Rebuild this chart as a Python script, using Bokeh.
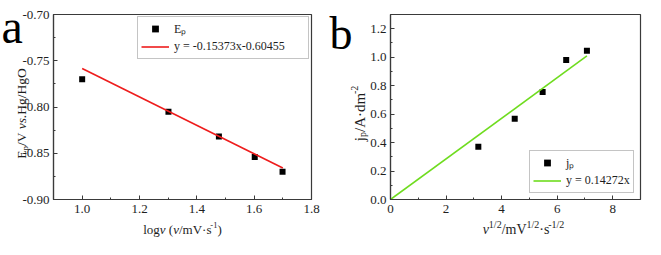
from bokeh.plotting import figure
from bokeh.models import Range1d, FixedTicker, PrintfTickFormatter, GridBox, Column
from bokeh.core.properties import value
from bokeh.embed import file_html
from bokeh.resources import INLINE
import math

# ---------------- data ----------------
# panel a
logv = [1.0, 1.301, 1.477, 1.602, 1.699]
Ep = [-0.770, -0.805, -0.832, -0.854, -0.870]
fit_a_x = [1.0, 1.70]
fit_a_y = [-0.7583, -0.8659]
a_xticks = [1.0, 1.2, 1.4, 1.6, 1.8]
a_xminor = [0.9, 1.1, 1.3, 1.5, 1.7]
a_yticks = [-0.90, -0.85, -0.80, -0.75, -0.70]
a_yminor = [-0.875, -0.825, -0.775, -0.725]
legend_a = ["Eₚ", "y = -0.15373x-0.60455"]

# panel b
sqrtv = [3.162, 4.472, 5.477, 6.325, 7.071]
jp = [0.370, 0.568, 0.755, 0.980, 1.045]
fit_b_x = [0.0, 7.071]
fit_b_y = [0.0, 1.009]
b_xticks = [0, 2, 4, 6, 8]
b_xminor = [1, 3, 5, 7]
b_yticks = [0.0, 0.2, 0.4, 0.6, 0.8, 1.0, 1.2]
b_yminor = [0.1, 0.3, 0.5, 0.7, 0.9, 1.1]
legend_b = ["jₚ", "y = 0.14272x"]

FONT = "Liberation Serif"
AX = "#3a3a3a"
TXT = "#1e1e1e"
W, H = 645, 239

# Times-like advance widths (per 1000 em)
W_N = {' ': 250, '(': 333, ')': 333, '-': 333, '.': 250, '/': 278, '=': 564,
       'A': 722, 'E': 611, 'H': 722, 'O': 722, 'V': 722, 'a': 444, 'd': 500,
       'g': 500, 'j': 278, 'l': 278, 'm': 778, 'o': 500, 'p': 500, 's': 389,
       'v': 500, 'x': 500, 'y': 500, '·': 250}
W_I = {'v': 444, 's': 389, '.': 250}


def no_align(p):
    if "frame_align" in p.properties():
        p.frame_align = False


def text_width(t, size, style):
    tot = 0
    for ch in t:
        if ch.isdigit():
            w = 500
        elif style == "italic" and ch in W_I:
            w = W_I[ch]
        else:
            w = W_N.get(ch, 500)
        tot += w
    return tot * size / 1000.0


def put_text(p, x, y, t, size, style="normal", angle=0.0, color=TXT):
    p.text(x=[x], y=[y], text=[t], angle=angle, text_font=value(FONT),
           text_font_size=value(f"{size}px"), text_font_style=value(style),
           text_baseline="alphabetic", text_align="left", text_color=color)


def rich(p, pieces, cx, cy, vertical=False):
    """pieces: (text, size, style, rise). Canvas px, y downward."""
    widths = [text_width(t, s, st) for t, s, st, sh in pieces]
    pos = -sum(widths) / 2.0
    for (t, s, st, sh), w in zip(pieces, widths):
        lead = text_width(t[:len(t) - len(t.lstrip(' '))], s, st)
        core = t.strip(' ')
        if core:
            d = pos + lead
            if not vertical:
                put_text(p, cx + d, cy - sh, core, s, st)
            else:
                put_text(p, cx - sh, cy - d, core, s, st, angle=math.pi / 2)
        pos += w


def make_fig(width, xr, yr, bl, br, xt, xm, yt, ym, xfmt, yfmt):
    p = figure(width=width, height=H, x_range=Range1d(*xr), y_range=Range1d(*yr),
               output_backend="svg", toolbar_location=None,
               min_border_left=bl, min_border_right=br, min_border_top=14,
               min_border_bottom=40)
    no_align(p)
    p.xgrid.visible = False
    p.ygrid.visible = False
    p.background_fill_color = "white"
    p.border_fill_color = "white"
    p.outline_line_color = AX
    p.outline_line_width = 1.2
    p.xaxis.ticker = FixedTicker(ticks=xt, minor_ticks=xm)
    p.yaxis.ticker = FixedTicker(ticks=yt, minor_ticks=ym)
    p.xaxis.formatter = PrintfTickFormatter(format=xfmt)
    p.yaxis.formatter = PrintfTickFormatter(format=yfmt)
    for ax in (p.xaxis[0], p.yaxis[0]):
        ax.axis_line_color = AX
        ax.axis_line_width = 1.2
        ax.major_tick_line_color = AX
        ax.minor_tick_line_color = AX
        ax.major_tick_in = 4
        ax.major_tick_out = 0
        ax.minor_tick_in = 2
        ax.minor_tick_out = 0
        ax.major_label_text_font = FONT
        ax.major_label_text_font_size = "13px"
        ax.major_label_text_color = TXT
    p.xaxis[0].major_label_standoff = 5
    p.yaxis[0].major_label_standoff = 4
    return p


def style_legend(p, loc, margin, label_width):
    lg = p.legend[0]
    lg.location = loc
    lg.margin = margin
    lg.padding = 3
    lg.spacing = 1
    lg.glyph_width = 28
    lg.glyph_height = 17
    lg.label_height = 17
    lg.label_width = label_width
    lg.label_standoff = 5
    lg.label_text_font = FONT
    lg.label_text_font_size = "12px"
    lg.label_text_color = TXT
    lg.border_line_color = "#8a8a8a"
    lg.border_line_width = 1
    lg.background_fill_color = "white"
    lg.background_fill_alpha = 1.0


# ---------------- panel a ----------------
pa = make_fig(322, (0.9, 1.8), (-0.9, -0.7), 53, 11,
              a_xticks, a_xminor, a_yticks, a_yminor, "%.1f", "%.2f")
pa.scatter(logv, Ep, marker="square", size=6, fill_color="black", line_color=None,
           legend_label=legend_a[0])
pa.line(fit_a_x, fit_a_y, line_color="#ee1c1c", line_width=1.6, legend_label=legend_a[1])
style_legend(pa, "top_right", 2, 131)

# ---------------- panel b ----------------
pb = make_fig(323, (0, 9), (0, 1.3), 68, 5,
              b_xticks, b_xminor, b_yticks, b_yminor, "%d", "%.1f")
pb.scatter(sqrtv, jp, marker="square", size=6, fill_color="black", line_color=None,
           legend_label=legend_b[0])
pb.line(fit_b_x, fit_b_y, line_color="#6fdc1f", line_width=1.6, legend_label=legend_b[1])
style_legend(pb, "bottom_right", 6, 64)

# ---------------- overlay with axis titles (rich text) ----------------
ov = figure(width=W, height=H, x_range=Range1d(0, W), y_range=Range1d(H, 0),
            output_backend="svg", toolbar_location=None,
            x_axis_type=None, y_axis_type=None, min_border=0,
            min_border_left=0, min_border_right=0, min_border_top=0, min_border_bottom=0)
no_align(ov)
ov.xgrid.visible = False
ov.ygrid.visible = False
ov.outline_line_color = None
ov.background_fill_color = None
ov.border_fill_color = None

# panel a frame: x 53..311, y 14..199 ; panel b frame: x 390..640
rich(ov, [("log", 13, "normal", 0), ("v", 13, "italic", 0), (" (", 13, "normal", 0),
          ("v", 13, "italic", 0), ("/mV·s", 13, "normal", 0), ("-1", 8.5, "normal", 5),
          (")", 13, "normal", 0)], 182, 229)
rich(ov, [("E", 13.5, "normal", 0), ("p", 9, "normal", -3), ("/V ", 13.5, "normal", 0),
          ("vs.", 13.5, "italic", 0), ("Hg/HgO", 13.5, "normal", 0)],
     21, 113, vertical=True)
put_text(ov, 1, 26, "a", 48, color="black")

rich(ov, [("v", 14, "italic", 0), ("1/2", 10, "normal", 5), ("/mV", 14, "normal", 0),
          ("1/2", 10, "normal", 5), ("·s", 14, "normal", 0), ("-1/2", 10, "normal", 5)],
     523, 229)
rich(ov, [("j", 15, "normal", 0), ("p", 10, "normal", -3), ("/A·dm", 15, "normal", 0),
          ("-2", 10, "normal", 5)], 359, 113, vertical=True)
put_text(ov, 329, 33, "b", 46, color="black")

ov_box = Column(children=[ov], spacing=0)
layout = GridBox(children=[(pa, 0, 0), (pb, 0, 1), (ov_box, 0, 0, 1, 2)], spacing=0)
open("out.html", "w").write(file_html(layout, INLINE))
